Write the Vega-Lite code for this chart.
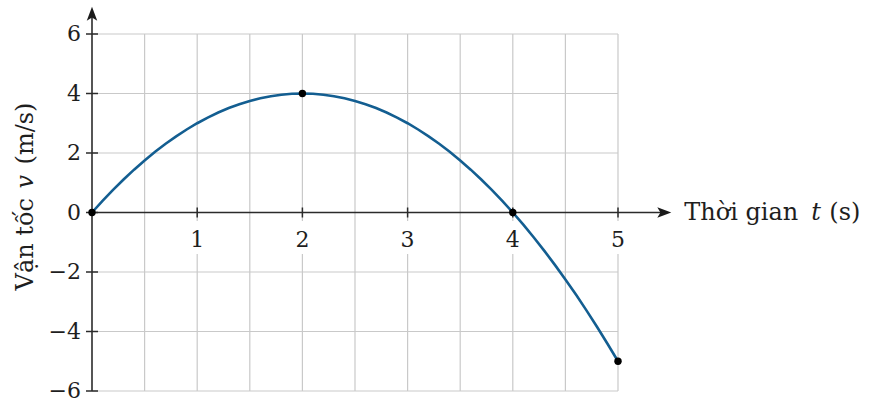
{
  "$schema": "https://vega.github.io/schema/vega-lite/v6.json",
  "autosize": {"type": "none"},
  "width": 526,
  "height": 357,
  "padding": {"left": 92, "top": 34, "right": 252, "bottom": 19},
  "background": "white",
  "config": {
    "view": {"stroke": null},
    "text": {"font": "DejaVu Serif", "color": "#1e1e1e"}
  },
  "datasets": {
    "curve": [
      {"t": 0, "v": 0}, {"t": 0.1, "v": 0.39}, {"t": 0.2, "v": 0.76}, {"t": 0.3, "v": 1.11},
      {"t": 0.4, "v": 1.44}, {"t": 0.5, "v": 1.75}, {"t": 0.6, "v": 2.04}, {"t": 0.7, "v": 2.31},
      {"t": 0.8, "v": 2.56}, {"t": 0.9, "v": 2.79}, {"t": 1.0, "v": 3.0}, {"t": 1.1, "v": 3.19},
      {"t": 1.2, "v": 3.36}, {"t": 1.3, "v": 3.51}, {"t": 1.4, "v": 3.64}, {"t": 1.5, "v": 3.75},
      {"t": 1.6, "v": 3.84}, {"t": 1.7, "v": 3.91}, {"t": 1.8, "v": 3.96}, {"t": 1.9, "v": 3.99},
      {"t": 2.0, "v": 4.0}, {"t": 2.1, "v": 3.99}, {"t": 2.2, "v": 3.96}, {"t": 2.3, "v": 3.91},
      {"t": 2.4, "v": 3.84}, {"t": 2.5, "v": 3.75}, {"t": 2.6, "v": 3.64}, {"t": 2.7, "v": 3.51},
      {"t": 2.8, "v": 3.36}, {"t": 2.9, "v": 3.19}, {"t": 3.0, "v": 3.0}, {"t": 3.1, "v": 2.79},
      {"t": 3.2, "v": 2.56}, {"t": 3.3, "v": 2.31}, {"t": 3.4, "v": 2.04}, {"t": 3.5, "v": 1.75},
      {"t": 3.6, "v": 1.44}, {"t": 3.7, "v": 1.11}, {"t": 3.8, "v": 0.76}, {"t": 3.9, "v": 0.39},
      {"t": 4.0, "v": 0}, {"t": 4.1, "v": -0.41}, {"t": 4.2, "v": -0.84}, {"t": 4.3, "v": -1.29},
      {"t": 4.4, "v": -1.76}, {"t": 4.5, "v": -2.25}, {"t": 4.6, "v": -2.76}, {"t": 4.7, "v": -3.29},
      {"t": 4.8, "v": -3.84}, {"t": 4.9, "v": -4.41}, {"t": 5.0, "v": -5.0}
    ],
    "dots": [
      {"t": 0, "v": 0}, {"t": 2, "v": 4}, {"t": 4, "v": 0}, {"t": 5, "v": -5}
    ],
    "xgrid": [
      {"t": 0.5}, {"t": 1}, {"t": 1.5}, {"t": 2}, {"t": 2.5},
      {"t": 3}, {"t": 3.5}, {"t": 4}, {"t": 4.5}, {"t": 5}
    ],
    "xlabels": [
      {"t": 1, "label": "1"}, {"t": 2, "label": "2"}, {"t": 3, "label": "3"},
      {"t": 4, "label": "4"}, {"t": 5, "label": "5"}
    ],
    "ylabels": [
      {"v": -6, "label": "−6"}, {"v": -4, "label": "−4"}, {"v": -2, "label": "−2"},
      {"v": 0, "label": "0"}, {"v": 2, "label": "2"}, {"v": 4, "label": "4"}, {"v": 6, "label": "6"}
    ],
    "one": [{}]
  },
  "layer": [
    {
      "data": {"name": "xgrid"},
      "mark": {"type": "rule", "color": "#c9c9c9", "strokeWidth": 1.2},
      "encoding": {
        "x": {"field": "t", "type": "quantitative", "scale": {"domain": [0, 5], "nice": false, "zero": false}, "axis": null},
        "y": {"datum": -6, "type": "quantitative", "scale": {"domain": [-6, 6], "nice": false, "zero": false}, "axis": null},
        "y2": {"datum": 6}
      }
    },
    {
      "data": {"name": "ylabels"},
      "mark": {"type": "rule", "color": "#c9c9c9", "strokeWidth": 1.2},
      "encoding": {
        "x": {"datum": 0, "type": "quantitative", "scale": {"domain": [0, 5], "nice": false, "zero": false}, "axis": null},
        "x2": {"datum": 5},
        "y": {"field": "v", "type": "quantitative", "scale": {"domain": [-6, 6], "nice": false, "zero": false}, "axis": null}
      }
    },
    {
      "data": {"name": "xlabels"},
      "mark": {"type": "point", "shape": "M-0.5,-1L0.5,-1L0.5,1L-0.5,1Z", "size": 1089, "filled": true, "color": "white", "opacity": 1, "yOffset": 25},
      "encoding": {
        "x": {"field": "t", "type": "quantitative", "scale": {"domain": [0, 5], "nice": false, "zero": false}, "axis": null},
        "y": {"datum": 0, "type": "quantitative", "scale": {"domain": [-6, 6], "nice": false, "zero": false}, "axis": null}
      }
    },
    {
      "data": {"name": "one"},
      "mark": {"type": "rule", "color": "#2b2b2b", "strokeWidth": 1.6},
      "encoding": {
        "x": {"datum": 0, "type": "quantitative", "scale": {"domain": [0, 5], "nice": false, "zero": false}, "axis": null},
        "x2": {"datum": 5.45},
        "y": {"datum": 0, "type": "quantitative", "scale": {"domain": [-6, 6], "nice": false, "zero": false}, "axis": null}
      }
    },
    {
      "data": {"name": "one"},
      "mark": {"type": "rule", "color": "#2b2b2b", "strokeWidth": 1.6},
      "encoding": {
        "x": {"datum": 0, "type": "quantitative", "scale": {"domain": [0, 5], "nice": false, "zero": false}, "axis": null},
        "y": {"datum": -6, "type": "quantitative", "scale": {"domain": [-6, 6], "nice": false, "zero": false}, "axis": null},
        "y2": {"datum": 6.8}
      }
    },
    {
      "data": {"name": "one"},
      "mark": {"type": "point", "shape": "M1,0L-1,-0.75L-0.55,0L-1,0.75Z", "size": 196, "filled": true, "color": "#1a1a1a", "opacity": 1},
      "encoding": {
        "x": {"datum": 5.44, "type": "quantitative", "scale": {"domain": [0, 5], "nice": false, "zero": false}, "axis": null},
        "y": {"datum": 0, "type": "quantitative", "scale": {"domain": [-6, 6], "nice": false, "zero": false}, "axis": null}
      }
    },
    {
      "data": {"name": "one"},
      "mark": {"type": "point", "shape": "M0,-1L-0.75,1L0,0.55L0.75,1Z", "size": 196, "filled": true, "color": "#1a1a1a", "opacity": 1},
      "encoding": {
        "x": {"datum": 0, "type": "quantitative", "scale": {"domain": [0, 5], "nice": false, "zero": false}, "axis": null},
        "y": {"datum": 6.68, "type": "quantitative", "scale": {"domain": [-6, 6], "nice": false, "zero": false}, "axis": null}
      }
    },
    {
      "data": {"name": "xlabels"},
      "mark": {"type": "point", "shape": "M0,-1L0,1", "size": 100, "filled": false, "stroke": "#2b2b2b", "strokeWidth": 1.5, "opacity": 1},
      "encoding": {
        "x": {"field": "t", "type": "quantitative", "scale": {"domain": [0, 5], "nice": false, "zero": false}, "axis": null},
        "y": {"datum": 0, "type": "quantitative", "scale": {"domain": [-6, 6], "nice": false, "zero": false}, "axis": null}
      }
    },
    {
      "data": {"name": "ylabels"},
      "mark": {"type": "point", "shape": "M-1,0L1,0", "size": 144, "filled": false, "stroke": "#2b2b2b", "strokeWidth": 1.5, "opacity": 1},
      "encoding": {
        "x": {"datum": 0, "type": "quantitative", "scale": {"domain": [0, 5], "nice": false, "zero": false}, "axis": null},
        "y": {"field": "v", "type": "quantitative", "scale": {"domain": [-6, 6], "nice": false, "zero": false}, "axis": null}
      }
    },
    {
      "data": {"name": "curve"},
      "mark": {"type": "line", "color": "#135e91", "strokeWidth": 2.6},
      "encoding": {
        "x": {"field": "t", "type": "quantitative", "scale": {"domain": [0, 5], "nice": false, "zero": false}, "axis": null},
        "y": {"field": "v", "type": "quantitative", "scale": {"domain": [-6, 6], "nice": false, "zero": false}, "axis": null}
      }
    },
    {
      "data": {"name": "dots"},
      "mark": {"type": "point", "shape": "circle", "size": 55, "filled": true, "color": "#000000", "opacity": 1},
      "encoding": {
        "x": {"field": "t", "type": "quantitative", "scale": {"domain": [0, 5], "nice": false, "zero": false}, "axis": null},
        "y": {"field": "v", "type": "quantitative", "scale": {"domain": [-6, 6], "nice": false, "zero": false}, "axis": null}
      }
    },
    {
      "data": {"name": "xlabels"},
      "mark": {"type": "text", "fontSize": 22, "align": "center", "baseline": "middle", "dy": 27},
      "encoding": {
        "x": {"field": "t", "type": "quantitative", "scale": {"domain": [0, 5], "nice": false, "zero": false}, "axis": null},
        "y": {"datum": 0, "type": "quantitative", "scale": {"domain": [-6, 6], "nice": false, "zero": false}, "axis": null},
        "text": {"field": "label"}
      }
    },
    {
      "data": {"name": "ylabels"},
      "mark": {"type": "text", "fontSize": 22, "align": "right", "baseline": "middle", "dx": -11},
      "encoding": {
        "x": {"datum": 0, "type": "quantitative", "scale": {"domain": [0, 5], "nice": false, "zero": false}, "axis": null},
        "y": {"field": "v", "type": "quantitative", "scale": {"domain": [-6, 6], "nice": false, "zero": false}, "axis": null},
        "text": {"field": "label"}
      }
    },
    {
      "data": {"name": "one"},
      "layer": [
        {"mark": {"type": "text", "text": "Thời gian", "fontSize": 24, "align": "left", "baseline": "middle", "dx": 0}},
        {"mark": {"type": "text", "text": "t", "fontSize": 24, "fontStyle": "italic", "align": "left", "baseline": "middle", "dx": 127}},
        {"mark": {"type": "text", "text": "(s)", "fontSize": 24, "align": "left", "baseline": "middle", "dx": 145}}
      ],
      "encoding": {
        "x": {"datum": 5.63, "type": "quantitative", "scale": {"domain": [0, 5], "nice": false, "zero": false}, "axis": null},
        "y": {"datum": 0, "type": "quantitative", "scale": {"domain": [-6, 6], "nice": false, "zero": false}, "axis": null}
      }
    },
    {
      "data": {"name": "one"},
      "layer": [
        {"mark": {"type": "text", "text": "Vận tốc", "fontSize": 24, "angle": 270, "align": "left", "baseline": "alphabetic", "dx": 0}},
        {"mark": {"type": "text", "text": "v", "fontSize": 24, "fontStyle": "italic", "angle": 270, "align": "left", "baseline": "alphabetic", "dx": 102}},
        {"mark": {"type": "text", "text": "(m/s)", "fontSize": 24, "angle": 270, "align": "left", "baseline": "alphabetic", "dx": 126}}
      ],
      "encoding": {
        "x": {"datum": -0.565, "type": "quantitative", "scale": {"domain": [0, 5], "nice": false, "zero": false}, "axis": null},
        "y": {"datum": -2.62, "type": "quantitative", "scale": {"domain": [-6, 6], "nice": false, "zero": false}, "axis": null}
      }
    }
  ]
}
